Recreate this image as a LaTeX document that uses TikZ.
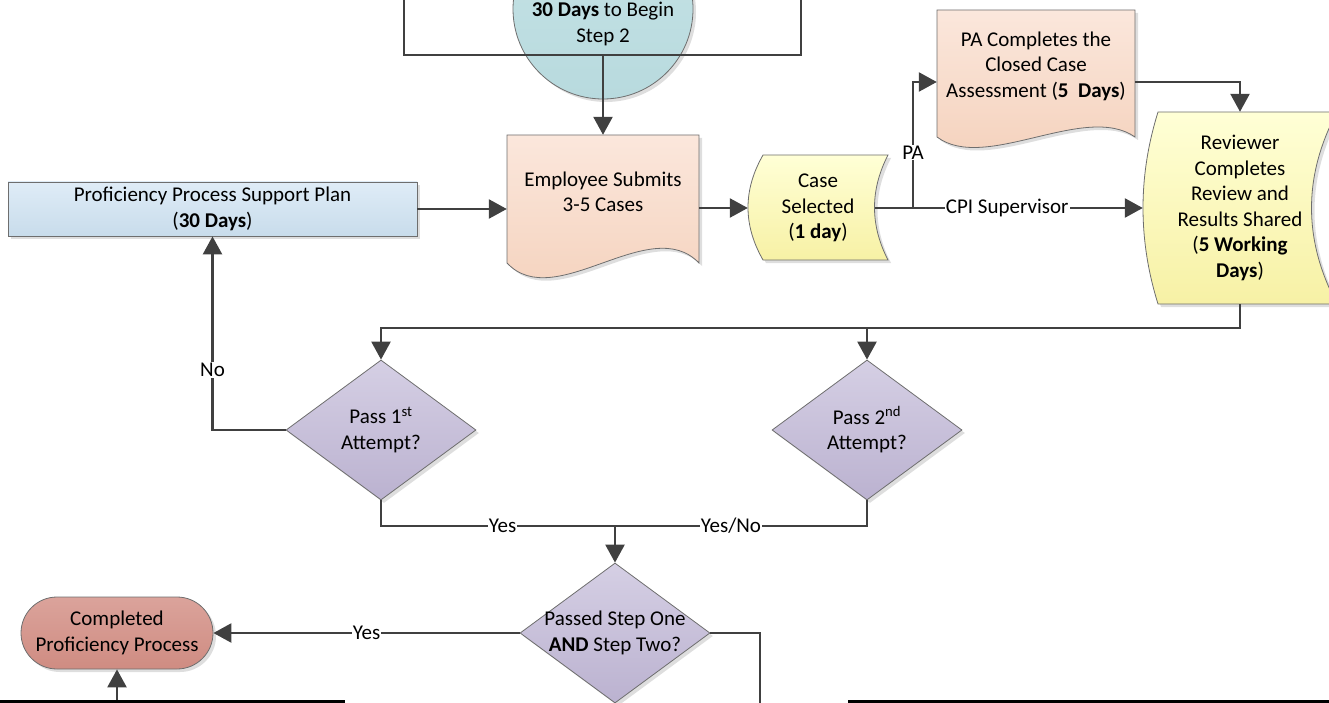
\documentclass[tikz,border=0pt]{standalone}
\usepackage{fontspec}
\setmainfont{Carlito}
\usetikzlibrary{arrows.meta,shapes.geometric,shadows,calc}
\definecolor{linec}{HTML}{404040}
\definecolor{edgec}{HTML}{6E6E6E}
\definecolor{peachT}{HTML}{FBE7DC}
\definecolor{peachB}{HTML}{F4D0BA}
\definecolor{yelT}{HTML}{FFFFD6}
\definecolor{yelB}{HTML}{F7F1A5}
\definecolor{lavT}{HTML}{D5CFE4}
\definecolor{lavB}{HTML}{BBB2D0}
\definecolor{blueT}{HTML}{DFECF7}
\definecolor{blueB}{HTML}{C8DCEB}
\definecolor{circT}{HTML}{C6E3E6}
\definecolor{circB}{HTML}{B8DADE}
\definecolor{doneT}{HTML}{DBA39B}
\definecolor{doneB}{HTML}{CF8C82}
\tikzset{
  shd/.style={drop shadow={shadow xshift=3pt,shadow yshift=-3pt,fill=black,opacity=0.13}},
  edge/.style={draw=edgec,line width=0.8pt},
  peach/.style={edge,top color=peachT,bottom color=peachB,shd},
  yel/.style={edge,top color=yelT,bottom color=yelB,shd},
  txt/.style={align=center,inner sep=0pt},
  conn/.style={draw=linec,line width=2.5pt},
  arr/.style={conn,-{Triangle[length=18pt,width=19pt]}},
  lbl/.style={fill=white,inner sep=1pt},
  dia/.style={shape=diamond,minimum width=190pt,minimum height=140pt,inner sep=0pt,edge,top color=lavT,bottom color=lavB,shd},
}
\begin{document}
\begin{tikzpicture}[x=1pt,y=-1pt,font=\fontsize{21}{25.5}\selectfont]
\useasboundingbox (0,0) rectangle (1329,703);

% circle
\node[circle,minimum size=180pt,inner sep=0pt,edge,top color=circT,bottom color=circB,shd,
  label={[align=center,yshift=-15pt]center:{\textbf{30 Days} to Begin\\Step 2}}] (circ) at (603,9) {};

% shapes (backgrounds)
\path[peach] (507,135) -- (699,135) -- (699,263) .. controls (650,212) and (555,314) .. (507,263) -- cycle;
\path[peach] (937,10) -- (1135,10) -- (1135,137) .. controls (1085,102) and (985,173) .. (937,137) -- cycle;
\path[yel] (763,155) -- (888,155) .. controls (870,190) and (870,225) .. (888,260) -- (763,260) .. controls (743,225) and (743,190) .. (763,155) -- cycle;
\path[yel] (1158,112) -- (1337,112) .. controls (1303,176) and (1303,240) .. (1337,304) -- (1158,304) .. controls (1138,240) and (1138,176) .. (1158,112) -- cycle;

% nodes
\node[txt,minimum width=192pt,minimum height=114pt] (emp) at (603,192) {Employee Submits\\3-5 Cases};
\node[txt,minimum width=198pt,minimum height=112pt] (pa) at (1036,66) {PA Completes the\\Closed Case\\Assessment (\textbf{5\ \ Days})};
\node[txt,minimum width=140pt,minimum height=105pt] (cs) at (818,208) {Case\\Selected\\(\textbf{1 day})};
\node[txt,minimum width=194pt,minimum height=192pt] (rev) at (1240,208) {Reviewer\\Completes\\Review and\\Results Shared\\(\textbf{5 Working}\\\textbf{Days})};
\node[txt,edge,top color=blueT,bottom color=blueB,shd,minimum width=409pt,minimum height=54pt] (ppsp) at (212.5,209) {Proficiency Process Support Plan\\(\textbf{30 Days})};
\node[dia,label={[align=center]center:{Pass 1\textsuperscript{st}\\Attempt?}}] (d1) at (381,430) {};
\node[dia,label={[align=center]center:{Pass 2\textsuperscript{nd}\\Attempt?}}] (d2) at (867,430) {};
\node[dia,label={[align=center]center:{Passed Step One\\\textbf{AND} Step Two?}}] (d3) at (615,633) {};
\node[txt,edge,top color=doneT,bottom color=doneB,shd,rounded corners=36pt,minimum width=192pt,minimum height=72pt] (done) at (117,633) {Completed\\Proficiency Process};

% top loop
\coordinate (loopL) at (404,-20);
\coordinate (loopR) at (801,-20);
\coordinate (loopB) at (603,55);
\draw[conn] (loopL) -- (loopL |- loopB) -- (loopR |- loopB) -- (loopR);
\draw[arr] (loopB) -- (emp.north);

% main flow
\draw[arr] (ppsp.east) -- (emp.west |- ppsp.east);
\draw[arr] (emp.east |- cs.west) -- (cs.west);
\coordinate (csR) at ($(cs.east)+(-13pt,0)$);
\coordinate (j1) at (913,208);
\draw[arr] (csR) -- (j1) -- node[lbl,pos=0.41]{CPI Supervisor} (rev.west);
\coordinate (paIn) at ($(pa.west)+(0,-16pt)$);
\draw[arr] (j1) -- node[lbl,pos=0.44]{PA} (j1 |- paIn) -- (paIn);
\coordinate (paOut) at ($(pa.east)+(0,-16pt)$);
\draw[arr] (paOut) -| (rev.north);

% reviewer to decisions
\coordinate (bus) at (0,328);
\draw[arr] (rev.south) -- (rev.south |- bus) -- (d1.north |- bus) -- (d1.north);
\draw[arr] (d2.north |- bus) -- (d2.north);

% no branch
\draw[arr] (d1.west) -- (ppsp.south |- d1.west) -- node[lbl,pos=0.31]{No} (ppsp.south);

% yes branches
\coordinate (bus2) at (0,526);
\draw[conn] (d1.south) -- (d1.south |- bus2) -- node[lbl,pos=0.52]{Yes} (d3.north |- bus2);
\draw[conn] (d2.south) -- (d2.south |- bus2) -- node[lbl,pos=0.54]{Yes/No} (d3.north |- bus2);
\draw[arr] (d3.north |- bus2) -- (d3.north);

% final
\draw[arr] (d3.west) -- node[lbl,pos=0.5]{Yes} (done.east);
\coordinate (exitR) at (760,712);
\draw[conn] (d3.east) -| (exitR);
\coordinate (fromB) at (117,712);
\draw[arr] (fromB) -- (done.south);

% bottom borders
\coordinate (bl1) at (-5,701.5);
\coordinate (bl2) at (345,701.5);
\coordinate (br1) at (848,701.5);
\coordinate (br2) at (1340,701.5);
\draw[line width=3pt,black] (bl1) -- (bl2);
\draw[line width=3pt,black] (br1) -- (br2);
\end{tikzpicture}
\end{document}
